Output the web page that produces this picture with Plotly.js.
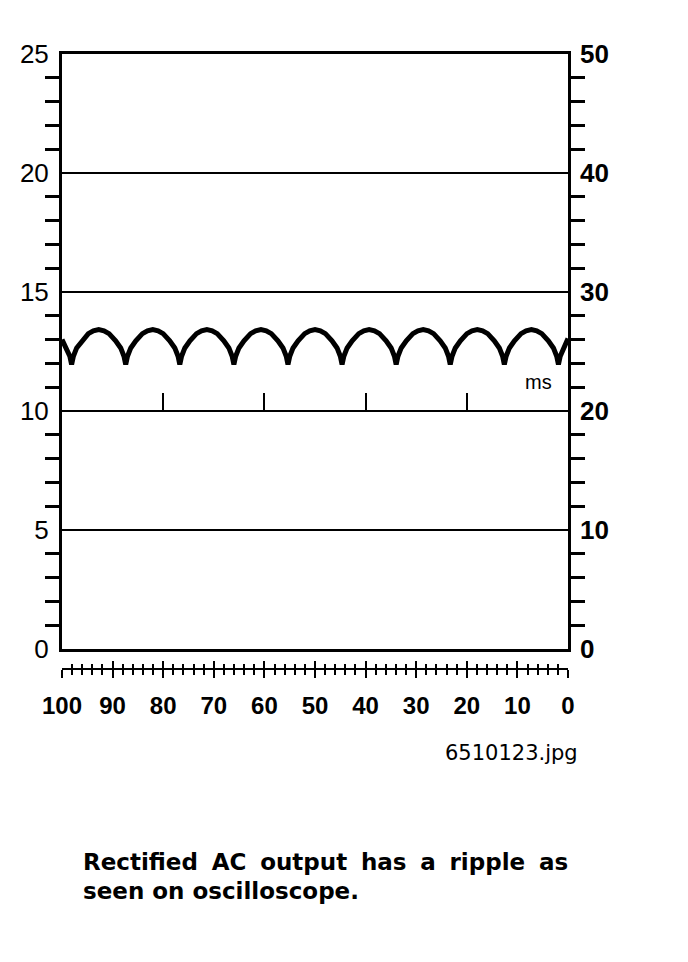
<!DOCTYPE html>
<html>
<head>
<meta charset="utf-8">
<script src="https://cdn.plot.ly/plotly-3.0.1.min.js"></script>
<style>
html,body{margin:0;padding:0;background:#fff;}
#chart{width:688px;height:962px;}
</style>
</head>
<body>
<div id="chart"></div>
<script>
// Ripple waveform (time in ms, voltage in V)
const rippleMs = [
  100.00, 99.10, 98.45,
  98.10, 97.75, 97.10, 96.10, 94.80, 93.80, 92.75, 91.70, 90.70, 89.40, 88.40, 87.75,
  87.41, 87.06, 86.41, 85.41, 84.11, 83.11, 82.06, 81.01, 80.01, 78.71, 77.71, 77.06,
  76.72, 76.37, 75.72, 74.72, 73.42, 72.42, 71.37, 70.32, 69.32, 68.02, 67.02, 66.37,
  66.03, 65.68, 65.03, 64.03, 62.73, 61.73, 60.68, 59.63, 58.63, 57.33, 56.33, 55.68,
  55.34, 54.99, 54.34, 53.34, 52.04, 51.04, 49.99, 48.94, 47.94, 46.64, 45.64, 44.99,
  44.65, 44.30, 43.65, 42.65, 41.35, 40.35, 39.30, 38.25, 37.25, 35.95, 34.95, 34.30,
  33.96, 33.61, 32.96, 31.96, 30.66, 29.66, 28.61, 27.56, 26.56, 25.26, 24.26, 23.61,
  23.27, 22.92, 22.27, 21.27, 19.97, 18.97, 17.92, 16.87, 15.87, 14.57, 13.57, 12.92,
  12.58, 12.23, 11.58, 10.58, 9.28, 8.28, 7.23, 6.18, 5.18, 3.88, 2.88, 2.23,
  1.89, 1.54, 0.89, 0.00
];
const rippleV = [
  13.00, 12.65, 12.30,
  11.95, 12.30, 12.65, 12.95, 13.25, 13.37, 13.42, 13.37, 13.25, 12.95, 12.65, 12.30,
  11.95, 12.30, 12.65, 12.95, 13.25, 13.37, 13.42, 13.37, 13.25, 12.95, 12.65, 12.30,
  11.95, 12.30, 12.65, 12.95, 13.25, 13.37, 13.42, 13.37, 13.25, 12.95, 12.65, 12.30,
  11.95, 12.30, 12.65, 12.95, 13.25, 13.37, 13.42, 13.37, 13.25, 12.95, 12.65, 12.30,
  11.95, 12.30, 12.65, 12.95, 13.25, 13.37, 13.42, 13.37, 13.25, 12.95, 12.65, 12.30,
  11.95, 12.30, 12.65, 12.95, 13.25, 13.37, 13.42, 13.37, 13.25, 12.95, 12.65, 12.30,
  11.95, 12.30, 12.65, 12.95, 13.25, 13.37, 13.42, 13.37, 13.25, 12.95, 12.65, 12.30,
  11.95, 12.30, 12.65, 12.95, 13.25, 13.37, 13.42, 13.37, 13.25, 12.95, 12.65, 12.30,
  11.95, 12.30, 12.65, 12.95, 13.25, 13.37, 13.42, 13.37, 13.25, 12.95, 12.65, 12.30,
  11.95, 12.30, 12.65, 13.05
];

// Axis ranges and tick values
const timeRange = [100, 0];
const leftRange = [0, 25];
const rightRange = [0, 50];
const timeMarks = [20, 40, 60, 80];

// Texts
const unitLabel = "ms";
const fileLabel = "6510123.jpg";
const captionLine1 = "Rectified\u2005 AC\u2005 output\u2005 has\u2005 a\u2005 ripple\u2005 as";
const captionLine2 = "seen on oscilloscope.";

const FONT = "Liberation Sans, Arial, sans-serif";
const DJ = "DejaVu Sans, sans-serif";

const traces = [
  {x: rippleMs, y: rippleV, type: "scatter", mode: "lines", xaxis: "x", yaxis: "y",
   line: {color: "#000", width: 5}, hoverinfo: "skip", showlegend: false},
  {x: [null], y: [null], type: "scatter", mode: "lines", xaxis: "x", yaxis: "y2", showlegend: false, hoverinfo: "skip"},
  {x: [null], y: [null], type: "scatter", mode: "lines", xaxis: "x2", yaxis: "y", showlegend: false, hoverinfo: "skip"},
  {x: [null], y: [null], type: "scatter", mode: "lines", xaxis: "x3", yaxis: "y", showlegend: false, hoverinfo: "skip"},
  {x: [null], y: [null], type: "scatter", mode: "lines", xaxis: "x4", yaxis: "y", showlegend: false, hoverinfo: "skip"}
];

const yDomBottom = 20 / 615;
const tenPos = yDomBottom + 0.4 * (1 - yDomBottom);

const layout = {
  width: 688, height: 962,
  margin: {l: 62, r: 120, t: 54, b: 293, pad: 0},
  paper_bgcolor: "#fff", plot_bgcolor: "#fff",
  showlegend: false,
  xaxis: {
    domain: [0, 1], range: timeRange, anchor: "y",
    showline: true, linewidth: 3, linecolor: "#000", mirror: true,
    showgrid: false, zeroline: false, ticks: "", showticklabels: false, fixedrange: true
  },
  yaxis: {
    domain: [yDomBottom, 1], range: leftRange, anchor: "x",
    showline: true, linewidth: 3, linecolor: "#000", mirror: true,
    showgrid: true, gridcolor: "#000", gridwidth: 1.6, zeroline: false,
    tick0: 0, dtick: 5, ticks: "",
    minor: {dtick: 1, ticks: "outside", ticklen: 14, tickwidth: 3, tickcolor: "#000", showgrid: false},
    tickfont: {family: FONT, size: 26, color: "#000"},
    ticklabelstandoff: 5, fixedrange: true
  },
  yaxis2: {
    overlaying: "y", side: "right", anchor: "x", range: rightRange,
    tick0: 0, dtick: 10, ticks: "", showgrid: false, zeroline: false, showline: false,
    minor: {dtick: 2, ticks: "outside", ticklen: 16, tickwidth: 3, tickcolor: "#000", showgrid: false},
    tickfont: {family: FONT, size: 26, color: "#000", weight: "bold"},
    ticklabelstandoff: 11, fixedrange: true
  },
  xaxis2: {
    overlaying: "x", anchor: "free", position: 0, range: timeRange,
    showline: true, linewidth: 2, linecolor: "#000",
    showgrid: false, zeroline: false,
    tick0: 0, dtick: 10, ticks: "outside", ticklen: 8, tickwidth: 2, tickcolor: "#000",
    minor: {dtick: 2, ticks: "outside", ticklen: 5, tickwidth: 2, tickcolor: "#000", showgrid: false},
    tickfont: {family: FONT, size: 24, color: "#000", weight: "bold"},
    ticklabelstandoff: 7, fixedrange: true
  },
  xaxis3: {
    overlaying: "x", anchor: "free", position: 0, range: timeRange,
    showline: false, showgrid: false, zeroline: false,
    tick0: 0, dtick: 10, ticks: "inside", ticklen: 8, tickwidth: 2, tickcolor: "#000",
    minor: {dtick: 2, ticks: "inside", ticklen: 5, tickwidth: 2, tickcolor: "#000", showgrid: false},
    showticklabels: false, fixedrange: true
  },
  xaxis4: {
    overlaying: "x", anchor: "free", position: tenPos, range: timeRange,
    showline: false, showgrid: false, zeroline: false,
    tickmode: "array", tickvals: timeMarks, ticks: "inside", ticklen: 18, tickwidth: 2, tickcolor: "#000",
    showticklabels: false, fixedrange: true
  },
  annotations: [
    {text: unitLabel, xref: "x", yref: "y", x: 5.9, y: 11.2, showarrow: false,
     xanchor: "center", yanchor: "middle", font: {family: FONT, size: 20, color: "#000"}},
    {text: fileLabel, xref: "paper", yref: "paper", x: 1.0237, y: -0.1365, showarrow: false,
     xanchor: "right", yanchor: "middle", font: {family: DJ, size: 21, color: "#000"}},
    {text: captionLine1, xref: "paper", yref: "paper", x: 0.0375, y: -0.3138, showarrow: false,
     xanchor: "left", yanchor: "middle", align: "left", font: {family: DJ, size: 23, color: "#000", weight: "bold"}},
    {text: captionLine2, xref: "paper", yref: "paper", x: 0.0375, y: -0.3610, showarrow: false,
     xanchor: "left", yanchor: "middle", align: "left", font: {family: DJ, size: 23, color: "#000", weight: "bold"}}
  ]
};

Plotly.newPlot("chart", traces, layout, {displayModeBar: false, staticPlot: true});
</script>
</body>
</html>
